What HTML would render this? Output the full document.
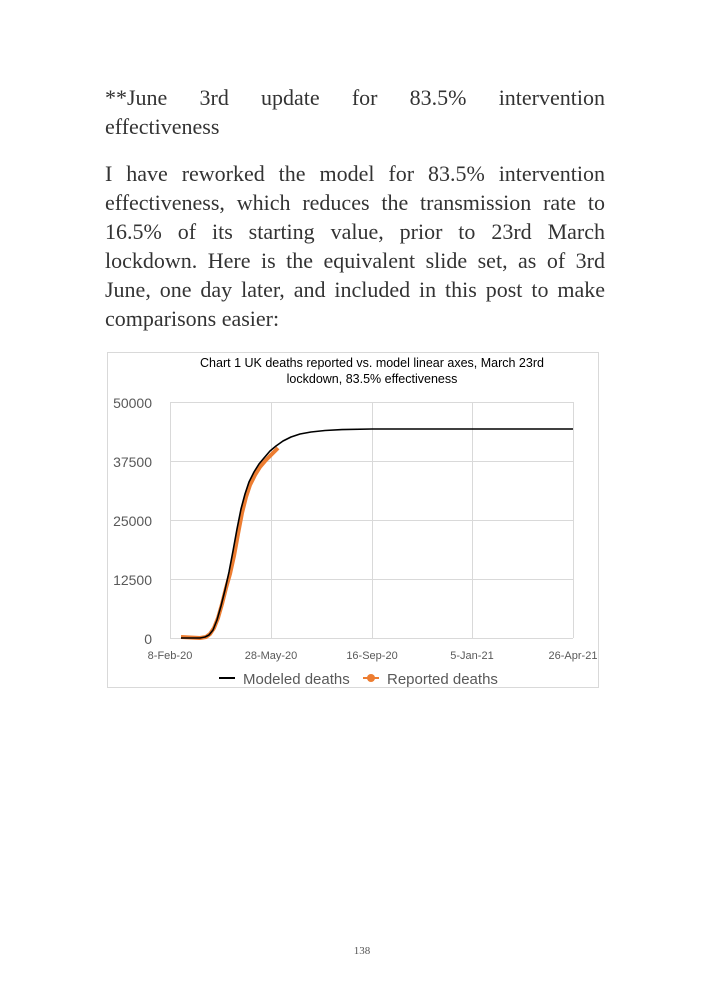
<!DOCTYPE html>
<html><head><meta charset="utf-8"><style>
body{margin:0;width:709px;height:992px;background:#fff;position:relative;overflow:hidden}
.l{position:absolute;left:105px;width:500px;font-family:"Liberation Serif",serif;font-size:22px;line-height:29px;color:#333;white-space:nowrap}
.j{text-align:justify;text-align-last:justify;white-space:normal}
</style></head><body>
<div class="l j" style="top:83px">**June 3rd update for 83.5% intervention</div>
<div class="l" style="top:112px">effectiveness</div>
<div class="l j" style="top:159px">I have reworked the model for 83.5% intervention</div>
<div class="l j" style="top:188px">effectiveness, which reduces the transmission rate to</div>
<div class="l j" style="top:217px">16.5% of its starting value, prior to 23rd March</div>
<div class="l j" style="top:246px">lockdown. Here is the equivalent slide set, as of 3rd</div>
<div class="l j" style="top:275px">June, one day later, and included in this post to make</div>
<div class="l" style="top:304px">comparisons easier:</div>
<svg width="709" height="992" style="position:absolute;left:0;top:0" font-family="Liberation Sans, sans-serif">
<rect x="107.5" y="352.5" width="491" height="335" fill="none" stroke="#d9d9d9"/>
<text x="372" y="367" font-size="12.5" text-anchor="middle" fill="#000">Chart 1 UK deaths reported vs. model linear axes, March 23rd</text>
<text x="372" y="383" font-size="12.5" text-anchor="middle" fill="#000">lockdown, 83.5% effectiveness</text>
<g stroke="#d9d9d9" stroke-width="1">
<line x1="170" y1="402.5" x2="573" y2="402.5"/><line x1="170" y1="461.5" x2="573" y2="461.5"/><line x1="170" y1="520.5" x2="573" y2="520.5"/><line x1="170" y1="579.5" x2="573" y2="579.5"/><line x1="170" y1="638.5" x2="573" y2="638.5"/>
<line x1="170.5" y1="402" x2="170.5" y2="638"/><line x1="271.5" y1="402" x2="271.5" y2="638"/><line x1="372.5" y1="402" x2="372.5" y2="638"/><line x1="472.5" y1="402" x2="472.5" y2="638"/><line x1="573.5" y1="402" x2="573.5" y2="638"/>
</g>
<g font-size="14" fill="#595959" text-anchor="end">
<text x="152" y="408">50000</text><text x="152" y="467">37500</text><text x="152" y="526">25000</text><text x="152" y="585">12500</text><text x="152" y="644">0</text>
</g>
<g font-size="11" fill="#595959" text-anchor="middle">
<text x="170" y="659">8-Feb-20</text><text x="271" y="659">28-May-20</text><text x="372" y="659">16-Sep-20</text><text x="472" y="659">5-Jan-21</text><text x="573" y="659">26-Apr-21</text>
</g>
<polyline fill="none" stroke="#ed7d31" stroke-width="4" stroke-linejoin="round" points="181,637 200,638 206,637 210,634 214,628 218,618 222,604 226,588 230,574 234,556 238,534 242,513 246,497 250,485 255,475 260,467 266,460 272,454 278,448"/>
<polyline fill="none" stroke="#000" stroke-width="1.6" stroke-linejoin="round" points="181,638 200,638 205,637 209,635 213,630 217,620 221,606 225,590 229,572 233,551 237,529 241,509 245,494 249,482 254,472 259,464 264,458 270,451 276,446 283,441 291,437 300,434 311,432 325,430.5 342,429.6 372,429 573,429"/>
<line x1="219" y1="678" x2="235" y2="678" stroke="#000" stroke-width="2"/>
<text x="243" y="684" font-size="15" fill="#595959">Modeled deaths</text>
<line x1="363" y1="678" x2="379" y2="678" stroke="#ed7d31" stroke-width="2"/>
<circle cx="371" cy="678" r="4" fill="#ed7d31"/>
<text x="387" y="684" font-size="15" fill="#595959">Reported deaths</text>
<text x="362" y="954" font-size="11" font-family="Liberation Serif, serif" fill="#555" text-anchor="middle">138</text>
</svg>
</body></html>
